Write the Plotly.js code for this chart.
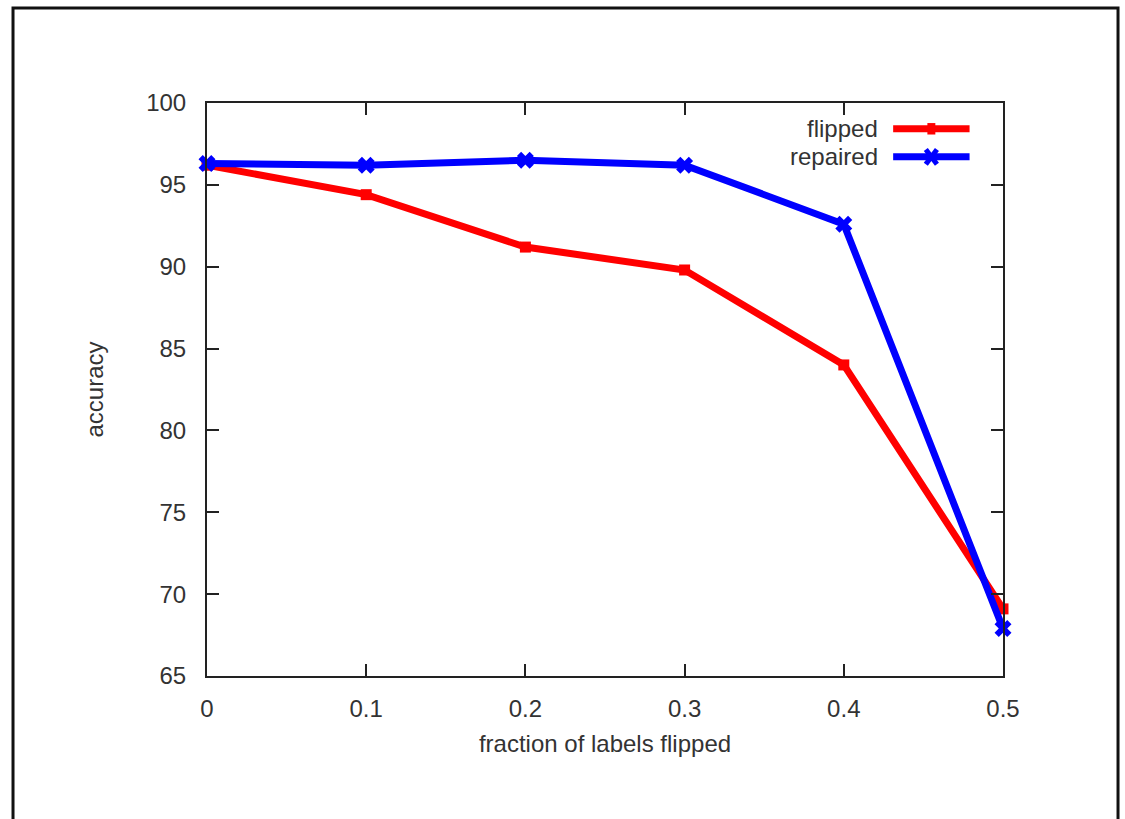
<!DOCTYPE html>
<html>
<head>
<meta charset="utf-8">
<script src="https://cdn.plot.ly/plotly-3.0.1.min.js"></script>
<style>html,body{margin:0;padding:0;background:#fff;}#chart{width:1125px;height:819px;}</style>
</head>
<body>
<div id="chart"></div>
<script>
const fractions = [0, 0.1, 0.2, 0.3, 0.4, 0.5];
const flipped = [96.2, 94.4, 91.2, 89.8, 84.0, 69.1];
const repaired = [96.3, 96.2, 96.5, 96.2, 92.6, 67.9];
const seriesNames = ['flipped', 'repaired'];
const xTicks = [0, 0.1, 0.2, 0.3, 0.4, 0.5];
const xTickLabels = ['0', '0.1', '0.2', '0.3', '0.4', '0.5'];
const yTicks = [65, 70, 75, 80, 85, 90, 95, 100];

const font = {family: 'Liberation Sans, Arial, sans-serif', size: 24, color: '#333'};

const traces = [
  {x: fractions, y: flipped, name: seriesNames[0], mode: 'lines+markers',
   line: {color: '#ff0000', width: 7}, marker: {color: '#ff0000', symbol: 'square', size: 11}, cliponaxis: false},
  {x: fractions, y: repaired, name: seriesNames[1], mode: 'lines+markers',
   line: {color: '#0000ff', width: 7}, marker: {color: '#0000ff', symbol: 'x', size: 15}, cliponaxis: false}
];

const axisCommon = {showline: true, linecolor: '#222', linewidth: 2, mirror: 'ticks', ticks: 'inside',
  ticklen: 12, tickwidth: 2, tickcolor: '#222', showgrid: false, zeroline: false, tickfont: font};

const layout = {
  width: 1125, height: 819,
  margin: {l: 207, r: 122, t: 103, b: 143},
  paper_bgcolor: '#fff', plot_bgcolor: '#fff',
  showlegend: false,
  font: font,
  xaxis: Object.assign({}, axisCommon, {range: [0, 0.5], tickvals: xTicks, ticktext: xTickLabels,
    ticklabelstandoff: 10,
    title: {text: 'fraction of labels flipped', font: font, standoff: 14}}),
  yaxis: Object.assign({}, axisCommon, {range: [65, 100], tickvals: yTicks,
    ticklabelstandoff: 14,
    title: {text: 'accuracy', font: font, standoff: 36}}),
  shapes: [
    {type: 'rect', xref: 'paper', yref: 'paper', x0: -0.2437, x1: 1.1445, y0: -0.3, y1: 1.1658,
     line: {color: '#111', width: 3}, fillcolor: 'rgba(0,0,0,0)', layer: 'below'},
    {type: 'line', xref: 'paper', yref: 'paper', x0: 0.862, x1: 0.958, y0: 0.955, y1: 0.955,
     line: {color: '#ff0000', width: 7}},
    {type: 'rect', xref: 'paper', yref: 'paper', x0: 0.905, x1: 0.915, y0: 0.945, y1: 0.965,
     line: {width: 0}, fillcolor: '#ff0000'},
    {type: 'line', xref: 'paper', yref: 'paper', x0: 0.862, x1: 0.958, y0: 0.906, y1: 0.906,
     line: {color: '#0000ff', width: 7}},
    {type: 'line', xref: 'paper', yref: 'paper', x0: 0.903, x1: 0.917, y0: 0.893, y1: 0.919,
     line: {color: '#0000ff', width: 5}},
    {type: 'line', xref: 'paper', yref: 'paper', x0: 0.903, x1: 0.917, y0: 0.919, y1: 0.893,
     line: {color: '#0000ff', width: 5}}
  ],
  annotations: [
    {xref: 'paper', yref: 'paper', x: 0.846, y: 0.955, xanchor: 'right', yanchor: 'middle',
     text: seriesNames[0], showarrow: false, font: font},
    {xref: 'paper', yref: 'paper', x: 0.846, y: 0.906, xanchor: 'right', yanchor: 'middle',
     text: seriesNames[1], showarrow: false, font: font}
  ]
};

Plotly.newPlot('chart', traces, layout, {displayModeBar: false, staticPlot: true});
</script>
</body>
</html>
